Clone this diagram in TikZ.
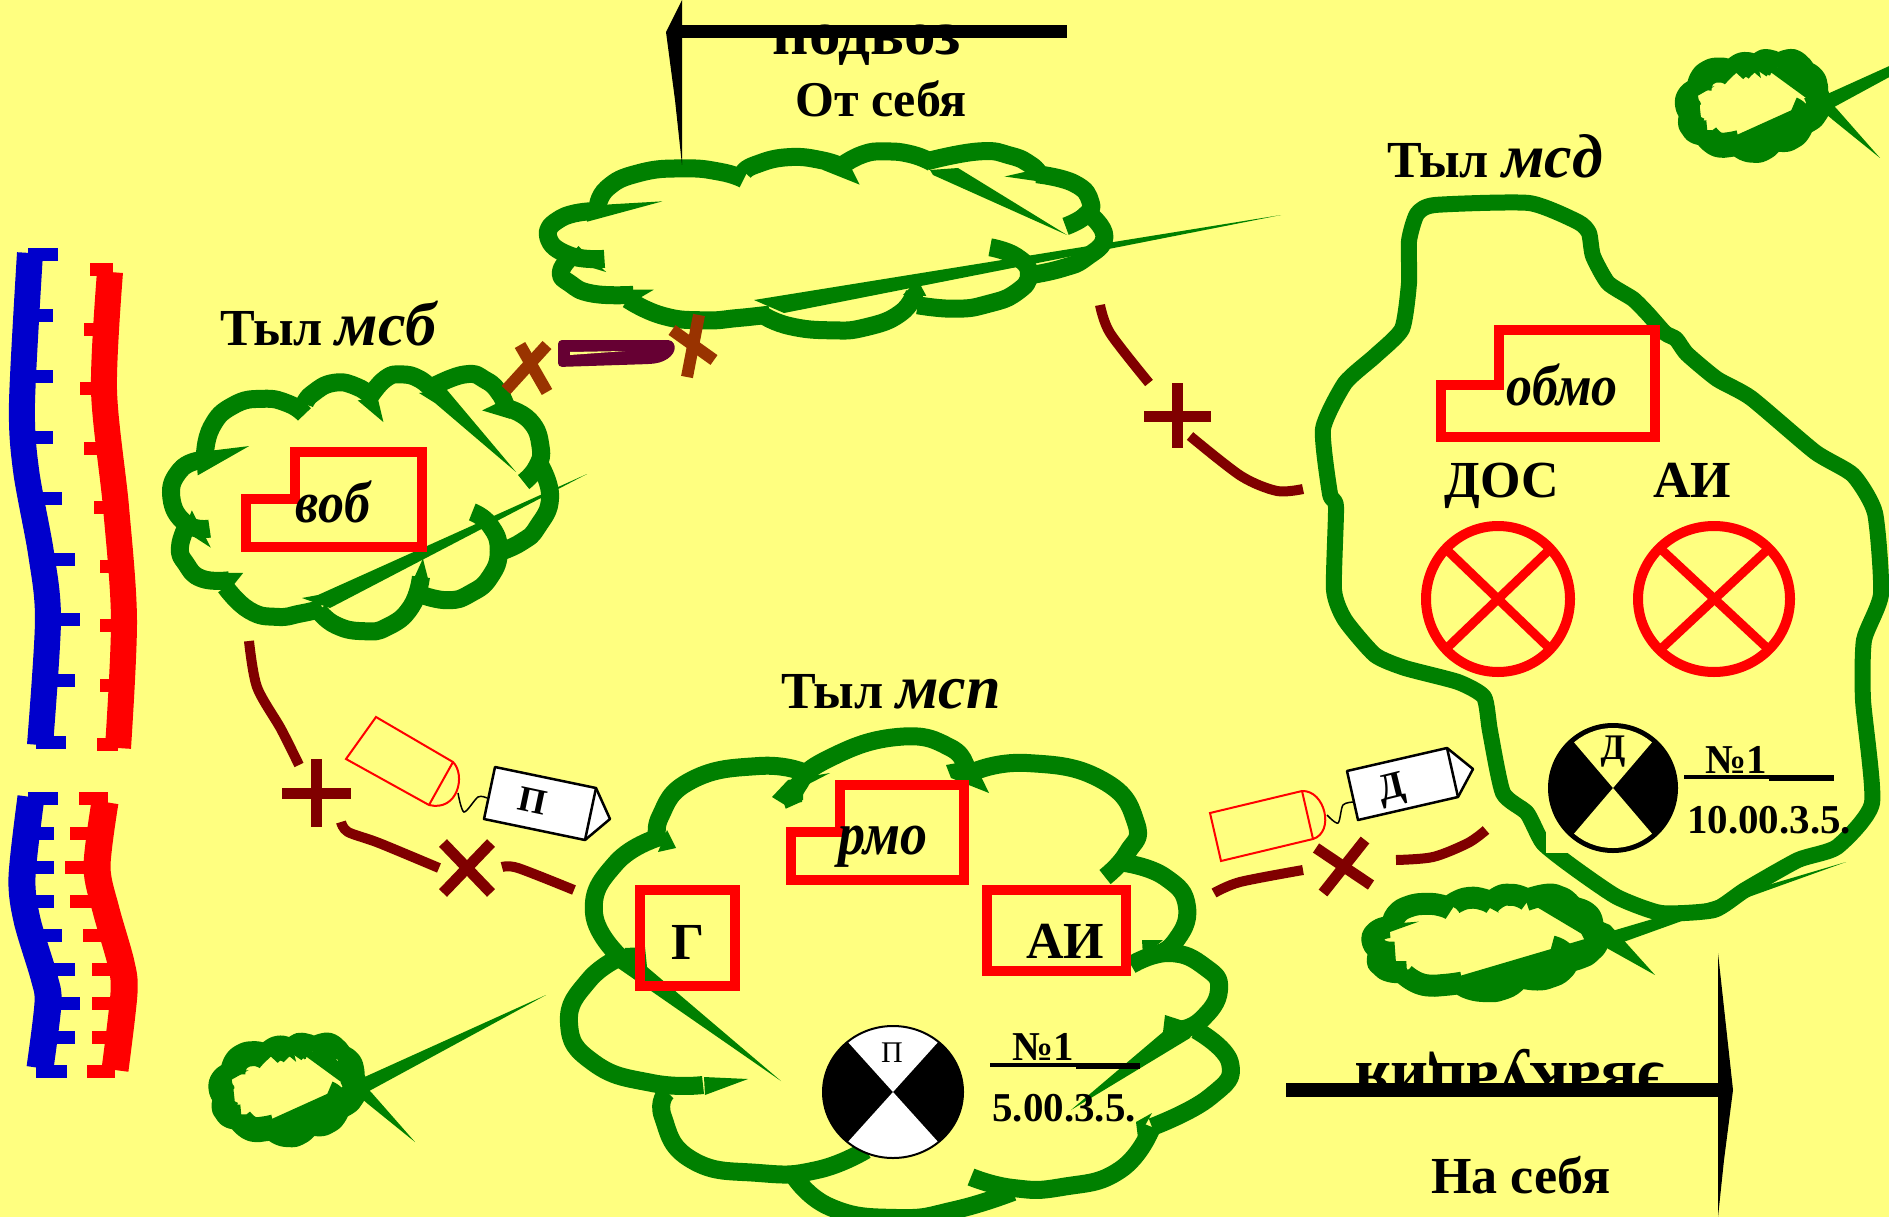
\documentclass[tikz,border=0pt]{standalone}
\usepackage{fontspec}
\setmainfont{Liberation Serif}
\definecolor{paper}{HTML}{FFFF80}
\definecolor{cloudgreen}{HTML}{008000}
\definecolor{trenchblue}{HTML}{0000CC}
\definecolor{roadmaroon}{HTML}{800000}
\definecolor{crossbrown}{HTML}{993300}
\definecolor{blobpurple}{HTML}{660033}
\tikzset{
  biglabel/.style={font=\fontsize{52}{60}\selectfont\bfseries,inner sep=0pt,anchor=base},
  midlabel/.style={font=\fontsize{41}{48}\selectfont\bfseries,inner sep=0pt,anchor=base},
  lobe/.style={draw=cloudgreen,line cap=butt,line join=round,tension=.85},
  road/.style={draw=roadmaroon,line width=10pt},
  roadcross/.style={draw=roadmaroon,line width=11pt},
  brigade/.style={draw=crossbrown,line width=12pt},
  redbox/.style={draw=red,line width=10pt},
  tagbody/.style={draw=black,fill=white,line width=2.5pt,line join=round},
  tagshell/.style={draw=red,line width=2pt},
  tagwire/.style={draw=black,line width=1.5pt}
}
\newcommand{\tallit}[1]{\scalebox{1}[1.12]{\textit{#1}}}
\newcommand{\titleit}[1]{{\fontsize{62}{60}\selectfont\textit{#1}}}
\newcommand{\cloudlobes}{
  \draw[lobe] plot[smooth] coordinates {(518,680) (535,590) (590,525) (665,505) (730,520) (770,552)};
  \draw[lobe] plot[smooth] coordinates {(770,522) (790,490) (845,457) (905,470) (945,505)};
  \draw[lobe] plot[smooth] coordinates {(935,500) (975,445) (1015,432) (1060,445) (1095,480)};
  \draw[lobe] plot[smooth] coordinates {(1085,475) (1175,432) (1230,450) (1265,490) (1280,530)};
  \draw[lobe] plot[smooth] coordinates {(1275,530) (1340,570) (1368,650) (1358,710) (1325,755)};
  \draw[lobe] plot[smooth] coordinates {(1365,700) (1392,800) (1360,890) (1320,935) (1265,965)};
  \draw[lobe] plot[smooth] coordinates {(1195,845) (1240,885) (1262,960) (1240,1040) (1190,1090) (1135,1110) (1070,1095)};
  \draw[lobe] plot[smooth] coordinates {(1065,1040) (1040,1130) (980,1190) (920,1203) (850,1185) (805,1140)};
  \draw[lobe] plot[smooth] coordinates {(815,1135) (760,1150) (700,1160) (630,1140) (570,1070)};
  \draw[lobe] plot[smooth] coordinates {(580,1050) (510,1045) (470,1000) (455,950) (475,880)};
  \draw[lobe] plot[smooth] coordinates {(530,895) (470,880) (433,800) (455,720) (505,690)};
  \fill[cloudgreen] (630,647) -- (540,660) -- (495,670) -- (500,735) -- cycle;
  \fill[cloudgreen] (970,575) -- (955,500) -- (905,510) -- cycle;
  \fill[cloudgreen] (1220,540) -- (1255,520) -- (1295,535) -- (1290,565) -- cycle;
  \fill[cloudgreen] (615,1028) -- (575,1028) -- (560,1060) -- (592,1062) -- cycle;
  \fill[cloudgreen] (533,952) -- (485,840) -- (465,900) -- cycle;
  \fill[cloudgreen] (1070,985) -- (1085,1055) -- (1045,1050) -- cycle;
}
\newcommand{\smallspikes}{
  \fill[cloudgreen] (258,-95) -- (-23,32) -- (0,50) -- (83,0) -- cycle;
  \fill[cloudgreen] (12,-38) -- (60,-3) -- (80,14) -- (127,52) -- (83,2) -- (40,-38) -- cycle;
}
\begin{document}
\begin{tikzpicture}[x=1pt,y=-1pt]
  \useasboundingbox (0,0) rectangle (1889,1217);
  \clip (0,0) rectangle (1889,1217);
  \fill[paper] (0,0) rectangle (1889,1217);

  \draw[trenchblue,line width=26pt] plot[smooth] coordinates {(30,253) (22,403) (26,470) (41,553) (48,620) (40,745)};
  \foreach \y/\a/\b in {248/28/58,309/30/53,370/30/53,431/30/53,492/35/62,553/45/75,613/50/80,674/45/75,736/36/66}
    \fill[trenchblue] (\a,\y) rectangle (\b,\y+13);
  \draw[red,line width=26pt] plot[smooth] coordinates {(110,272) (104,390) (116,507) (124,620) (118,748)};
  \foreach \y/\a/\b in {263/90/113,323/84/108,382/80/108,442/84/110,501/94/118,560/100/122,619/100/124,679/100/124,738/97/118}
    \fill[red] (\a,\y) rectangle (\b,\y+13);

  \draw[trenchblue,line width=27pt] plot[smooth] coordinates {(31,797) (22,877) (27,920) (44,977) (48,1003) (40,1068)};
  \foreach \y/\a/\b in {792/28/58,827/30/54,861/30/54,895/30/54,929/35/62,963/45/75,997/50/80,1031/45/75,1065/36/67}
    \fill[trenchblue] (\a,\y) rectangle (\b,\y+13);
  \draw[red,line width=27pt] plot[smooth] coordinates {(105,802) (97,867) (106,910) (121,963) (124,993) (115,1070)};
  \foreach \y/\a/\b in {792/79/108,827/70/100,861/65/100,895/70/105,929/83/115,963/92/120,997/92/122,1031/92/120,1065/87/115}
    \fill[red] (\a,\y) rectangle (\b,\y+13);

  \begin{scope}[shift={(360.5,503)},xscale=.395,yscale=.333,shift={(-912,-818)},line width=18pt]
    \cloudlobes
  \end{scope}
  \fill[cloudgreen] (587,474) -- (318,595) -- (302,598) -- (330,608) -- cycle;
  \fill[cloudgreen] (419,393) -- (447,390) -- (516,472) -- (435,403) -- cycle;

  \begin{scope}[shift={(826,241)},xscale=.58,yscale=.232,shift={(-912,-818)},line width=18pt]
    \cloudlobes
  \end{scope}
  \fill[cloudgreen] (1281,215) -- (754,300) -- (784,313) -- cycle;
  \fill[cloudgreen] (930,170) -- (958,168) -- (1067,235) -- (933,175) -- cycle;

  \begin{scope}[shift={(1753,106)},xscale=.137,yscale=.115,shift={(-912,-818)},line width=25pt]
    \cloudlobes
  \end{scope}
  \begin{scope}[shift={(1753,106)}]
    \smallspikes
  \end{scope}

  \begin{scope}[shift={(288,1090)},xscale=.14,yscale=.116,shift={(-912,-818)},line width=25pt]
    \cloudlobes
  \end{scope}
  \begin{scope}[shift={(288,1090)}]
    \smallspikes
  \end{scope}

  \begin{scope}[shift={(1485,943)},xscale=.235,yscale=.125,shift={(-912,-818)},line width=22pt]
    \cloudlobes
  \end{scope}
  \fill[cloudgreen] (1846,862) -- (1446,980) -- (1486,987) -- (1615,945) -- cycle;
  \fill[cloudgreen] (1525,900) -- (1587,937) -- (1655,975) -- (1610,925) -- (1551,900) -- cycle;

  \begin{scope}[line width=18pt]
    \draw[lobe] plot[smooth] coordinates {(794,805) (797,787) (826,760) (897,737) (951,748) (966,772)};
    \draw[lobe] plot[smooth] coordinates {(660,845) (660,817) (692,780) (759,766) (803,772)};
    \draw[lobe] plot[smooth] coordinates {(973,772) (1027,763) (1102,780) (1136,823) (1127,853) (1105,877)};
    \draw[lobe] plot[smooth] coordinates {(1125,863) (1165,877) (1187,907) (1174,943) (1152,955)};
    \draw[lobe] plot[smooth] coordinates {(1131,965) (1169,953) (1205,967) (1219,990) (1201,1020) (1178,1030)};
    \draw[lobe] plot[smooth] coordinates {(1196,1030) (1230,1063) (1210,1097) (1152,1127)};
    \draw[lobe] plot[smooth] coordinates {(1152,1127) (1120,1170) (1062,1187) (1013,1188) (971,1177)};
    \draw[lobe] plot[smooth] coordinates {(1013,1192) (955,1210) (897,1218) (830,1207) (792,1173)};
    \draw[lobe] plot[smooth] coordinates {(866,1150) (817,1170) (759,1173) (692,1160) (663,1117) (667,1092)};
    \draw[lobe] plot[smooth] coordinates {(703,1085) (652,1083) (594,1063) (569,1023) (589,980) (625,955)};
    \draw[lobe] plot[smooth] coordinates {(623,960) (594,913) (616,863) (660,837)};
  \end{scope}
  \fill[cloudgreen] (772,797) -- (788,780) -- (830,773) -- (803,787) -- (803,800) -- (785,805) -- cycle;
  \fill[cloudgreen] (946,765) -- (973,760) -- (989,793) -- (951,778) -- cycle;
  \fill[cloudgreen] (658,852) -- (676,848) -- (667,830) -- cycle;
  \fill[cloudgreen] (1142,940) -- (1163,940) -- (1143,957) -- cycle;
  \fill[cloudgreen] (1165,1015) -- (1163,1032) -- (1071,1110) -- (1190,1038) -- (1196,1025) -- cycle;
  \fill[cloudgreen] (1136,1122) -- (1152,1113) -- (1138,1138) -- cycle;
  \fill[cloudgreen] (748,1079) -- (704,1077) -- (705,1095) -- cycle;
  \fill[cloudgreen] (625,948) -- (645,947) -- (647,967) -- (781,1081) -- (618,968) -- cycle;

  \draw[cloudgreen,line width=16pt,line join=round] plot[smooth cycle,tension=.35] coordinates {
    (1417,214) (1435,205) (1529,203) (1578,222) (1589,233) (1593,256) (1608,283) (1633,299) (1648,314)
    (1665,333) (1676,339) (1687,354) (1717,379) (1751,398) (1815,452) (1853,475) (1875,513) (1881,594)
    (1864,640) (1863,700) (1872,803) (1837,847) (1798,860) (1745,890) (1714,910) (1661,913) (1617,897)
    (1573,867) (1543,843) (1527,813) (1503,793) (1490,731) (1484,697) (1458,682) (1405,668) (1375,655)
    (1345,620) (1334,590) (1336,507) (1330,494) (1323,429) (1345,383) (1375,356) (1402,329) (1409,283) (1409,241)};

  \draw[redbox] (294.5,452) -- (422,452) -- (422,547) -- (246,547) -- (246,499) -- (294.5,499) -- cycle;
  \draw[redbox] (1499,330) -- (1655,330) -- (1655,437) -- (1441,437) -- (1441,385) -- (1499,385) -- cycle;
  \draw[redbox] (840,785) -- (964,785) -- (964,880) -- (791,880) -- (791,832) -- (840,832) -- cycle;
  \draw[redbox] (640,890) rectangle (735,986);
  \draw[redbox] (987,890) rectangle (1126,971);
  \draw[red,line width=10pt] (1498,599) ellipse [x radius=72,y radius=73];
  \draw[red,line width=9pt] (1448,551) -- (1548,647);
  \draw[red,line width=9pt] (1548,551) -- (1448,647);
  \draw[red,line width=10pt] (1714,599) ellipse [x radius=76,y radius=73];
  \draw[red,line width=9pt] (1663,551) -- (1766,647);
  \draw[red,line width=9pt] (1766,551) -- (1663,647);

  \draw[road] plot[smooth] coordinates {(249,641) (257,687) (281,729) (299,765)};
  \draw[roadcross] (282,793) -- (351,793);
  \draw[roadcross] (316,759) -- (316,827);
  \draw[road] plot[smooth] coordinates {(341,822) (348,832) (379,843) (439,868)};
  \draw[roadcross] (443,843) -- (491,893);
  \draw[roadcross] (491,843) -- (443,893);
  \draw[road] plot[smooth] coordinates {(502,867) (518,868) (574,890)};
  \draw[road] plot[smooth] coordinates {(1214,893) (1240,882) (1303,870)};
  \draw[roadcross] (1365,840) -- (1323,893);
  \draw[roadcross] (1316,848) -- (1371,885);
  \draw[road] plot[smooth] coordinates {(1396,860) (1433,857) (1468,843) (1486,830)};
  \draw[road] plot[smooth] coordinates {(1100,305) (1110,333) (1149,383)};
  \draw[roadcross] (1144,416) -- (1211,416);
  \draw[roadcross] (1177,383) -- (1177,448);
  \draw[road] plot[smooth] coordinates {(1190,436) (1241,476) (1277,491) (1303,489)};

  \draw[brigade] (547,345) -- (506,390);
  \draw[brigade] (520,345) -- (547,392);
  \draw[brigade] (699,315) -- (687,377);
  \draw[brigade] (672,330) -- (714,360);
  \fill[blobpurple,rounded corners=4pt] (558,340) -- (672,340) .. controls (678,352) and (668,362) .. (650,364) -- (558,367) -- cycle;
  \fill[paper] (570,352) -- (625,351) -- (570,355) -- cycle;

  \draw[tagshell] (376,717) -- (453,762) .. controls (466,775) and (458,812) .. (429,805) -- (346,759) -- cycle;
  \draw[tagshell] (453,762) -- (429,805);
  \draw[tagwire] plot[smooth] coordinates {(458,793) (464,812) (478,797) (487,798)};
  \draw[tagbody] (495,767) -- (596,788) -- (610,819) -- (585,840) -- (484,819) -- cycle;
  \draw[tagbody] (596,788) -- (585,840);
  \node[font=\fontsize{36}{40}\selectfont\bfseries,inner sep=0pt,rotate=-12] (tagp) at (533,801) {П};

  \draw[tagshell] (1210,813) -- (1302,791) .. controls (1325,790) and (1335,832) .. (1313,839) -- (1221,861) -- cycle;
  \draw[tagshell] (1302,791) -- (1313,839);
  \draw[tagwire] plot[smooth] coordinates {(1327,815) (1338,823) (1343,805) (1354,802)};
  \draw[tagbody] (1347,771) -- (1447,748) -- (1473,769) -- (1458,797) -- (1358,820) -- cycle;
  \draw[tagbody] (1447,748) -- (1458,797);
  \node[font=\fontsize{38}{40}\selectfont\bfseries,inner sep=0pt,rotate=14] (tagd) at (1392,790) {Д};

  \fill[black] (893,1092) ellipse [x radius=70,y radius=66];
  \begin{scope}
    \clip (893,1092) ellipse [x radius=70,y radius=66];
    \fill[white] (893,1092) -- (810,1000) -- (976,1000) -- cycle;
    \fill[white] (893,1092) -- (810,1184) -- (976,1184) -- cycle;
  \end{scope}
  \draw[black,line width=2pt] (893,1092) ellipse [x radius=70,y radius=66];
  \node[font=\fontsize{30}{34}\selectfont,inner sep=0pt] (symp) at (892,1053) {П};

  \fill[paper] (1546,723) rectangle (1679,853);
  \fill[black] (1613,788) ellipse [x radius=65,y radius=65];
  \begin{scope}
    \clip (1613,788) ellipse [x radius=60,y radius=60];
    \fill[paper] (1613,788) -- (1555,720) -- (1671,720) -- cycle;
    \fill[paper] (1613,788) -- (1555,856) -- (1671,856) -- cycle;
  \end{scope}
  \node[font=\fontsize{36}{40}\selectfont\bfseries,inner sep=0pt] (symd) at (1613,752) {Д};

  \node[biglabel] (msb) at (329.5,345) {Тыл \titleit{мсб}};
  \node[biglabel] (msd) at (1495,178) {Тыл \titleit{мсд}};
  \node[biglabel] (msp) at (891,708) {Тыл \titleit{мсп}};
  \node[biglabel,font=\fontsize{50}{60}\selectfont\bfseries] (ot) at (881,117) {От себя};
  \node[biglabel] (na) at (1521,1193) {На себя};
  \node[biglabel] (vob) at (334,522) {\tallit{воб}};
  \node[biglabel] (obmo) at (1562,405) {\tallit{обмо}};
  \node[biglabel,font=\fontsize{54}{60}\selectfont\bfseries] (rmo) at (883,854) {\tallit{рмо}};
  \node[biglabel] (gosp) at (688,959) {Г};
  \node[biglabel] (ai) at (1065,958) {АИ};
  \node[biglabel] (dos) at (1502,497) {ДОС};
  \node[biglabel] (aitwo) at (1692,497) {АИ};
  \node[midlabel] (numa) at (1043,1060) {№1};
  \node[midlabel] (timea) at (1064,1121) {5.00.3.5.};
  \node[midlabel] (numb) at (1736,773) {№1};
  \node[midlabel] (timeb) at (1769,833) {10.00.3.5.};
  \draw[black,line width=4pt] (990,1065) -- (1076,1065);
  \draw[black,line width=6pt] (1076,1066) -- (1140,1066);
  \draw[black,line width=4pt] (1684,777) -- (1771,777);
  \draw[black,line width=6pt] (1769,778) -- (1834,778);

  \node[font=\fontsize{63}{64}\selectfont\bfseries,inner sep=0pt,anchor=base] (podvoz) at (867,55) {подвоз};
  \node[font=\fontsize{66}{70}\selectfont\bfseries,inner sep=0pt,anchor=base,rotate=180] (evak) at (1510,1063) {эвакуация};
  \fill[black] (682,25) rectangle (1067,38);
  \fill[black] (682,0) -- (666,32) -- (675,100) -- (682,165) -- cycle;
  \fill[black] (1286,1083) rectangle (1718,1097);
  \fill[black] (1718,953) -- (1733,1090) -- (1724,1160) -- (1718,1217) -- cycle;
\end{tikzpicture}
\end{document}
